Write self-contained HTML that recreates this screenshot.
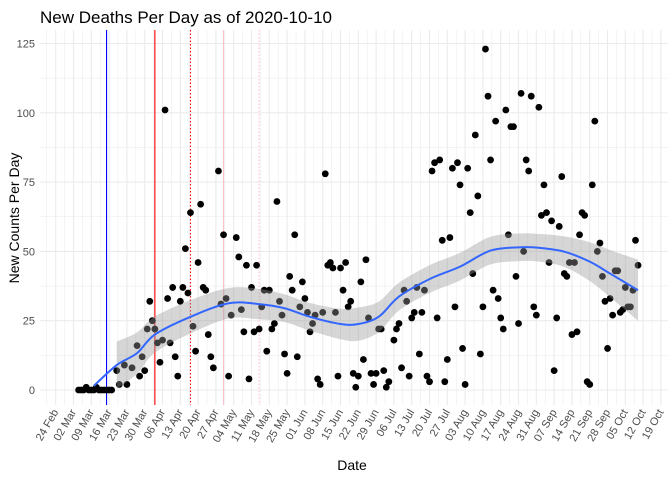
<!DOCTYPE html>
<html><head><meta charset="utf-8"><style>
body{margin:0;background:#fff;}
svg{display:block;font-family:"Liberation Sans",Arial,sans-serif;}
</style></head><body>
<svg id="chart" width="672" height="480" xmlns="http://www.w3.org/2000/svg">
<text x="40" y="23" font-size="17" fill="#000">New Deaths Per Day as of 2020-10-10</text>
<text x="352" y="470" font-size="14" text-anchor="middle" fill="#000">Date</text>
<text transform="translate(19,218) rotate(-90)" font-size="14" text-anchor="middle" fill="#000">New Counts Per Day</text>
<g id="grid"></g><g id="vlines"></g><g id="points"></g><g id="band"></g><g id="axes"></g>
</svg>
<script>
const deathDays=[9,10,11,12,13,14,15,16,17,18,19,20,21,22,24,25,27,28,30,32,33,34,35,36,37,38,39,40,41,42,43,44,45,46,47,48,49,50,51,52,53,54,55,56,57,58,59,60,61,62,64,65,66,67,68,69,71,72,73,74,75,76,77,78,79,80,81,82,83,84,85,86,87,88,89,90,91,92,93,94,95,96,97,98,99,100,101,102,103,104,105,106,107,108,109,110,111,112,113,114,115,116,117,118,119,120,121,122,123,124,125,126,127,128,129,130,131,133,134,135,136,137,138,139,140,141,142,143,144,145,146,147,148,149,150,151,152,153,154,155,156,157,158,159,160,161,162,163,164,165,166,167,168,169,170,171,172,173,174,175,176,177,178,179,180,181,182,183,184,185,186,187,188,189,190,191,192,193,194,195,196,197,198,199,200,201,202,203,204,205,206,207,208,209,210,211,212,213,214,215,216,217,218,219,220,221,222,223,224,225,226,227,228,229];
const deathValues=[0,0,0,1,0,0,0,1,0,0,0,0,0,0,7,2,9,2,8,16,5,12,7,22,32,25,22,17,10,18,101,33,17,37,12,5,32,37,51,35,64,23,14,46,67,37,36,20,12,8,79,31,56,33,5,27,55,48,29,21,45,4,37,21,45,22,30,36,14,36,22,24,68,32,27,13,6,41,36,56,12,30,39,33,28,21,24,27,4,2,28,78,45,46,44,28,5,44,36,46,30,32,6,1,5,39,11,47,26,6,2,6,22,22,7,1,3,18,22,24,8,36,32,5,26,28,37,13,28,36,5,3,79,82,26,83,54,3,11,55,80,30,82,74,15,2,80,64,42,92,70,13,30,123,106,83,36,97,33,26,22,101,56,95,95,41,24,107,50,83,79,106,30,27,102,63,74,64,46,61,7,26,59,77,42,41,46,20,46,21,56,64,63,3,2,74,97,50,53,41,32,15,33,27,43,43,28,29,37,30,30,36,54,45];
const smoothDays=[15,24,32,39,53,68,80,90,100,112,119,127,135,147,159,171,183,190,200,210,218,229];
const smoothFit=[1.5,9,13.3,20,26.4,31.3,31,29.5,26.4,23.8,23.8,26.4,33.7,40,44.5,50.3,51.5,51.3,49.9,46.3,42,36];
const smoothHalfWidth=[null,8.5,7.5,6.5,6,5.5,5.5,5,5,5.5,6,5.5,5,5,5,5,5,5,5.5,7,8.5,11];
const yTicks=[0,25,50,75,100,125];
const xTickLabels=["24 Feb","02 Mar","09 Mar","16 Mar","23 Mar","30 Mar","06 Apr","13 Apr","20 Apr","27 Apr","04 May","11 May","18 May","25 May","01 Jun","08 Jun","15 Jun","22 Jun","29 Jun","06 Jul","13 Jul","20 Jul","27 Jul","03 Aug","10 Aug","17 Aug","24 Aug","31 Aug","07 Sep","14 Sep","21 Sep","28 Sep","05 Oct","12 Oct","19 Oct"];
const refLineDays=[20,39,53,66,80];
const refLineColors=["#0000ff","#ff0000","#ff0000","#ffc0cb","#ffc0cb"];
const refLineDashed=[false,false,true,false,true];

const NS="http://www.w3.org/2000/svg";
const X0=40,X1=668,Y0=30,Y1=405;
const xs=d=>55.7+d*2.543;
const ys=v=>390-v*2.772;
function mk(tag,attrs,parent){const e=document.createElementNS(NS,tag);for(const k in attrs)e.setAttribute(k,attrs[k]);parent.appendChild(e);return e;}
function smoothPath(p,move){let s=(move?'M':'L')+p[0][0]+','+p[0][1];
 for(let i=0;i<p.length-1;i++){const a=p[Math.max(0,i-1)],b=p[i],c=p[i+1],d=p[Math.min(p.length-1,i+2)];
  s+='C'+(b[0]+(c[0]-a[0])/6)+','+(b[1]+(c[1]-a[1])/6)+' '+(c[0]-(d[0]-b[0])/6)+','+(c[1]-(d[1]-b[1])/6)+' '+c[0]+','+c[1];}
 return s;}
const gridG=document.getElementById('grid'),vlG=document.getElementById('vlines'),ptsG=document.getElementById('points'),bandG=document.getElementById('band'),axesG=document.getElementById('axes');
for(let v=-12.5;v<=137.5;v+=12.5){const y=ys(v);if(y<Y0||y>Y1)continue;const major=yTicks.includes(v);
 const l=mk('line',{x1:X0,x2:X1,y1:y,y2:y,stroke:'#ebebeb','stroke-width':major?1.1:0.55},gridG);
 
 }
for(let w=-1;w<=xTickLabels.length;w+=0.5){const x=xs(w*7);if(x<X0||x>X1)continue;const major=Number.isInteger(w);
 const l=mk('line',{x1:x,x2:x,y1:Y0,y2:Y1,stroke:'#ebebeb','stroke-width':major?1.1:0.55},gridG);
 
 }
refLineDays.forEach((d,i)=>{const l=mk('line',{x1:xs(d),x2:xs(d),y1:Y0,y2:Y1,stroke:refLineColors[i],'stroke-width':1.1},vlG);
 if(refLineDashed[i])l.setAttribute('stroke-dasharray','1.5,2');
 
 });
deathDays.forEach((d,i)=>{const c=mk('circle',{cx:xs(d),cy:ys(deathValues[i]),r:3.4,fill:'#000'},ptsG);
 
 });
const bandTop=[],bandBot=[];
smoothDays.forEach((d,i)=>{if(smoothHalfWidth[i]==null)return;bandTop.push([xs(d),ys(smoothFit[i]+smoothHalfWidth[i])]);bandBot.unshift([xs(d),ys(smoothFit[i]-smoothHalfWidth[i])]);});
const bandPath=smoothPath(bandTop,true)+smoothPath(bandBot,false)+'Z';
const poly=mk('path',{d:bandPath,fill:'rgba(153,153,153,0.4)'},bandG);


const linePts=smoothDays.map((d,i)=>[xs(d),ys(smoothFit[i])]);
const sl=mk('path',{d:smoothPath(linePts,true),fill:'none',stroke:'#3366ff','stroke-width':2,'stroke-linejoin':'round'},bandG);


yTicks.forEach(v=>{const t=mk('text',{x:35,y:ys(v)+4,'font-size':11,'text-anchor':'end',fill:'#4d4d4d'},axesG);t.textContent=v;
 
 });
xTickLabels.forEach((s,i)=>{const x=xs(i*7)+3,y=412;
 const t=mk('text',{transform:`translate(${x},${y}) rotate(-60)`,'font-size':11,'text-anchor':'end',fill:'#4d4d4d'},axesG);t.textContent=s;
 
 });
</script>
</body></html>
